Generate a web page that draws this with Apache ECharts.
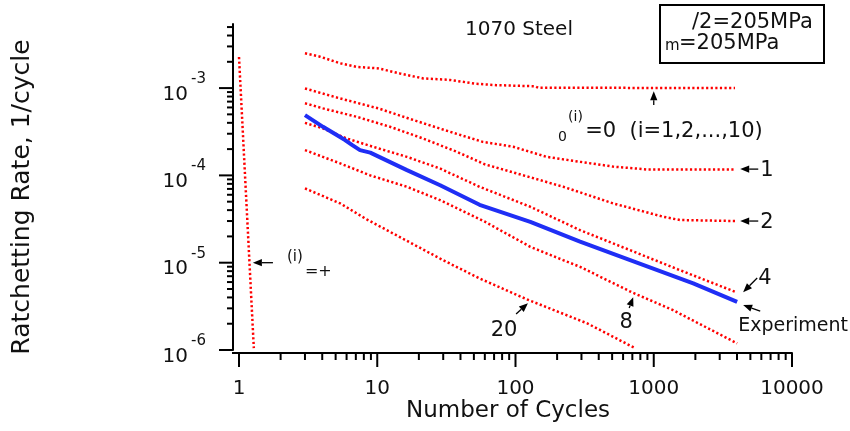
<!DOCTYPE html>
<html><head><meta charset="utf-8">
<script src="https://cdn.jsdelivr.net/npm/echarts@6/dist/echarts.min.js"></script>
<style>html,body{margin:0;padding:0;background:#fff}#c{width:850px;height:431px}</style>
</head><body><div id="c"></div>
<script>
const FONT = 'DejaVu Sans';

// ---- data: number of cycles and ratchetting rate (1/cycle) ----
const cyclesI0 = [3, 3.85, 5.4, 7.1, 10.2, 14.6, 21.5, 33.6, 52, 73, 138, 146, 3870];
const rateI0   = [2.5e-3, 2.29e-3, 1.92e-3, 1.75e-3, 1.68e-3, 1.47e-3, 1.29e-3, 1.24e-3, 1.12e-3, 1.08e-3, 1.05e-3, 1.01e-3, 1.0e-3];

const cyclesI1 = [3, 5.4, 10.2, 18.3, 33.6, 58, 96, 168, 293, 510, 890, 3870];
const rateI1   = [9.9e-4, 7.6e-4, 5.85e-4, 4.3e-4, 3.16e-4, 2.42e-4, 2.13e-4, 1.63e-4, 1.43e-4, 1.26e-4, 1.17e-4, 1.17e-4];

const cyclesI2 = [3, 4.05, 7.1, 12.4, 21.4, 37.7, 60, 222, 510, 1170, 1550, 3870];
const rateI2   = [6.7e-4, 5.85e-4, 4.69e-4, 3.6e-4, 2.65e-4, 1.86e-4, 1.34e-4, 7.4e-5, 4.77e-5, 3.36e-5, 3.08e-5, 3.0e-5];

const cyclesI4 = [3, 4.05, 6.0, 9.3, 16.4, 28.4, 55, 128, 293, 675, 1550, 3870];
const rateI4   = [4.0e-4, 3.45e-4, 2.65e-4, 2.13e-4, 1.63e-4, 1.2e-4, 7.4e-5, 4.37e-5, 2.36e-5, 1.39e-5, 8.2e-6, 4.65e-6];

const cyclesExp = [3.0, 4.05, 5.85, 6.6, 7.5, 8.9, 10.5, 16.4, 28.5, 55, 128, 293, 675, 1930, 4010];
const rateExp   = [4.9e-4, 3.6e-4, 2.54e-4, 2.22e-4, 1.95e-4, 1.82e-4, 1.61e-4, 1.15e-4, 7.7e-5, 4.6e-5, 2.94e-5, 1.74e-5, 1.07e-5, 5.8e-6, 3.56e-6];

const cyclesI8 = [3, 5.4, 8.9, 16.4, 28.5, 60, 128, 221, 293, 690, 1380, 4010];
const rateI8   = [1.95e-4, 1.37e-4, 1.0e-4, 7.4e-5, 5.2e-5, 2.95e-5, 1.52e-5, 1.07e-5, 8.97e-6, 4.6e-6, 2.86e-6, 1.19e-6];

const cyclesI20 = [3, 5.4, 8.4, 29.9, 55, 121, 330, 733];
const rateI20   = [7.1e-5, 4.77e-5, 3.13e-5, 1.07e-5, 6.6e-6, 3.8e-6, 2.02e-6, 1.05e-6];

const cyclesInf = [1.0, 1.28];
const rateInf   = [2.27e-3, 1.05e-6];

// axis ranges / ticks
const xMin = 1, xMax = 10000;
const yMin = 1e-6, yMax = 5.42e-3;
const xTickLabels = ['1', '10', '100', '1000', '10000'];

// annotations in data units: arrows [tailX, tailY, tipX, tipY]
const arrows = [
  [1000, 6.4e-4, 1000, 9.2e-4],
  [5700, 1.18e-4, 4220, 1.18e-4],
  [5700, 3.0e-5, 4220, 3.0e-5],
  [5600, 6.67e-6, 4430, 4.6e-6],
  [5890, 2.79e-6, 4430, 3.27e-6],
  [664, 3.02e-6, 710, 4.03e-6],
  [101, 2.58e-6, 123, 3.44e-6],
  [1.76, 1.0e-5, 1.26, 1.0e-5]
];
// labels: [text, x, y, align, fontSize]
const labels = [
  ['1', 5890, 1.15e-4, 'left', 21],
  ['2', 5890, 2.92e-5, 'left', 21],
  ['4', 5690, 6.5e-6, 'left', 21],
  ['Experiment', 4080, 1.88e-6, 'left', 19],
  ['8', 631, 2.09e-6, 'center', 21],
  ['20', 82.7, 1.69e-6, 'center', 21],
  ['=0  (i=1,2,...,10)', 319, 3.21e-4, 'left', 21],
  ['0', 203, 2.71e-4, 'left', 14],
  ['(i)', 240, 4.59e-4, 'left', 14],
  ['(i)', 2.22, 1.16e-5, 'left', 15],
  ['=+', 3.0, 7.8e-6, 'left', 16]
];

function pairs(xs, ys) { return xs.map((x, i) => [x, ys[i]]); }

const red = '#ff0000';
const dotStyle = { color: red, width: 2.5, type: [2.2, 2.4], cap: 'butt' };

function lineSeries(name, xs, ys, style) {
  return { name, type: 'line', data: pairs(xs, ys), showSymbol: false, symbol: 'none',
    lineStyle: style, silent: true, z: 3 };
}

function renderDecor(params, api) {
  const ch = [];
  const o = api.coord([xMin, yMin]);
  const axX = o[0] - 6, axY = o[1] + 3;
  const st = { stroke: '#000', lineWidth: 2 };
  ch.push({ type: 'line', shape: { x1: axX - 1, y1: axY, x2: o[0], y2: axY }, style: st });
  for (let d = 0; d <= 4; d++) {
    for (let k = 1; k <= 9; k++) {
      const v = k * Math.pow(10, d);
      if (v > xMax * 1.0001) break;
      const px = api.coord([v, yMin])[0];
      const len = k === 1 ? 14 : 7;
      ch.push({ type: 'line', shape: { x1: px, y1: axY, x2: px, y2: axY + len }, style: st });
    }
  }
  for (let d = -6; d <= -3; d++) {
    for (let k = 1; k <= 9; k++) {
      const v = k * Math.pow(10, d);
      if (v > yMax) break;
      const py = api.coord([xMin, v])[1];
      const len = k === 1 ? 14 : 6;
      ch.push({ type: 'line', shape: { x1: axX, y1: py, x2: axX - len, y2: py }, style: st });
    }
  }
  return { type: 'group', children: ch };
}

function renderNotes(params, api) {
  const ch = [];
  arrows.forEach(a => {
    const t = api.coord([a[0], a[1]]), h = api.coord([a[2], a[3]]);
    const dx = h[0] - t[0], dy = h[1] - t[1];
    const L = Math.sqrt(dx * dx + dy * dy), ux = dx / L, uy = dy / L;
    const hl = 9, hw = 3.6;
    const bx = h[0] - ux * hl, by = h[1] - uy * hl;
    ch.push({ type: 'line', shape: { x1: t[0], y1: t[1], x2: bx, y2: by }, style: { stroke: '#000', lineWidth: 1.3 } });
    ch.push({ type: 'polygon', shape: { points: [[h[0], h[1]], [bx - uy * hw, by + ux * hw], [bx + uy * hw, by - ux * hw]] }, style: { fill: '#000' } });
  });
  labels.forEach(l => {
    const p = api.coord([l[1], l[2]]);
    ch.push({ type: 'text', x: p[0], y: p[1], style: { text: l[0], fontSize: l[4], fontFamily: FONT, fill: '#111', align: l[3], verticalAlign: 'middle' } });
  });
  return { type: 'group', children: ch };
}

const chart = echarts.init(document.getElementById('c'), null, { renderer: 'canvas' });
chart.setOption({
  animation: false,
  backgroundColor: '#fff',
  textStyle: { fontFamily: FONT },
  grid: { left: 239, right: 58, top: 24, bottom: 81, containLabel: false },
  xAxis: {
    type: 'log', logBase: 10, min: xMin, max: xMax, interval: 1, offset: 3,
    axisLine: { show: true, lineStyle: { color: '#000', width: 2 } },
    axisTick: { show: false }, splitLine: { show: false }, minorTick: { show: false },
    axisLabel: {
      margin: 26, fontSize: 20, color: '#111', fontFamily: FONT,
      formatter: v => { const e = Math.log10(v); const r = Math.round(e); return Math.abs(e - r) < 1e-6 ? xTickLabels[r] : ''; }
    }
  },
  yAxis: {
    type: 'log', logBase: 10, min: yMin, max: yMax, interval: 1, offset: 6,
    axisLine: { show: true, lineStyle: { color: '#000', width: 2 } },
    axisTick: { show: false }, splitLine: { show: false }, minorTick: { show: false },
    axisLabel: {
      margin: 27, color: '#111', fontFamily: FONT, showMaxLabel: false,
      formatter: v => { const e = Math.log10(v); const r = Math.round(e); return Math.abs(e - r) < 1e-6 ? '{b|10}{s|' + r + '}' : ''; },
      rich: {
        b: { fontSize: 20, fontFamily: FONT, color: '#111', verticalAlign: 'bottom' },
        s: { fontSize: 15, fontFamily: FONT, color: '#111', verticalAlign: 'top', padding: [0, 0, 18, 3] }
      }
    }
  },
  graphic: [
    { type: 'text', x: 508, y: 411, style: { text: 'Number of Cycles', fontSize: 23, fontFamily: FONT, fill: '#111', align: 'center', verticalAlign: 'middle' } },
    { type: 'text', x: 22, y: 197, rotation: Math.PI / 2, style: { text: 'Ratchetting Rate, 1/cycle', fontSize: 25, fontFamily: FONT, fill: '#111', align: 'center', verticalAlign: 'middle' } },
    { type: 'rect', shape: { x: 660, y: 5, width: 164, height: 58 }, style: { fill: '#fff', stroke: '#000', lineWidth: 2 }, z: 10 },
    { type: 'text', x: 692, y: 23, style: { text: '/2=205MPa', fontSize: 21, fontFamily: FONT, fill: '#111', verticalAlign: 'middle' }, z: 11 },
    { type: 'text', x: 665, y: 46, style: { text: 'm', fontSize: 15, fontFamily: FONT, fill: '#111', verticalAlign: 'middle' }, z: 11 },
    { type: 'text', x: 679, y: 44, style: { text: '=205MPa', fontSize: 21, fontFamily: FONT, fill: '#111', verticalAlign: 'middle' }, z: 11 },
    { type: 'text', x: 465, y: 30, style: { text: '1070 Steel', fontSize: 20, fontFamily: FONT, fill: '#111', verticalAlign: 'middle' }, z: 11 }
  ],
  series: [
    lineSeries('i0', cyclesI0, rateI0, dotStyle),
    lineSeries('i1', cyclesI1, rateI1, dotStyle),
    lineSeries('i2', cyclesI2, rateI2, dotStyle),
    lineSeries('i4', cyclesI4, rateI4, dotStyle),
    lineSeries('i8', cyclesI8, rateI8, dotStyle),
    lineSeries('i20', cyclesI20, rateI20, dotStyle),
    lineSeries('inf', cyclesInf, rateInf, dotStyle),
    lineSeries('Experiment', cyclesExp, rateExp, { color: '#1f2ef5', width: 4 }),
    { type: 'custom', name: 'axisTicks', coordinateSystem: 'cartesian2d', data: [[10, 1e-4]], renderItem: renderDecor, clip: false, silent: true, z: 5 },
    { type: 'custom', name: 'notes', coordinateSystem: 'cartesian2d', data: [[10, 1e-4]], renderItem: renderNotes, clip: false, silent: true, z: 6 }
  ]
});
</script>
</body></html>
